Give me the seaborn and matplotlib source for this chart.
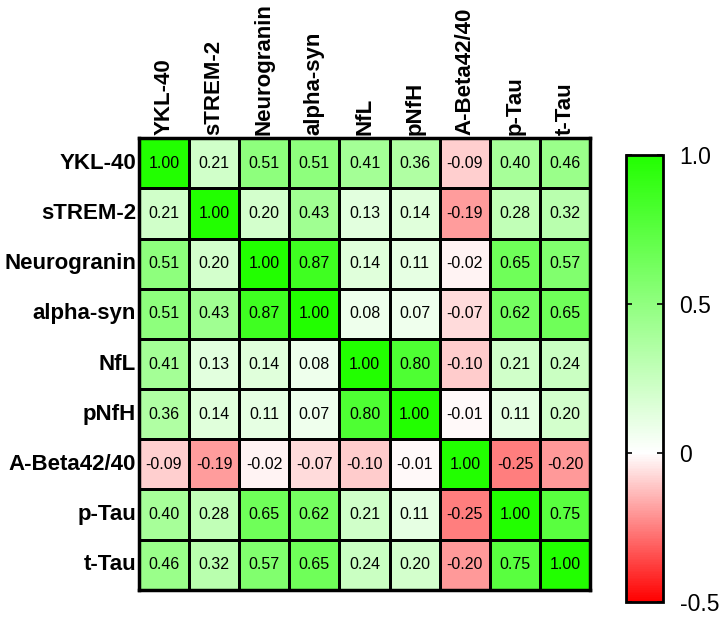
import numpy as np
import pandas as pd
import seaborn as sns
import matplotlib.pyplot as plt
from matplotlib.colors import LinearSegmentedColormap

markers = ["YKL-40", "sTREM-2", "Neurogranin", "alpha-syn", "NfL", "pNfH",
           "A-Beta42/40", "p-Tau", "t-Tau"]

ykl40 = [1.00, 0.21, 0.51, 0.51, 0.41, 0.36, -0.09, 0.40, 0.46]
strem2 = [0.21, 1.00, 0.20, 0.43, 0.13, 0.14, -0.19, 0.28, 0.32]
neurogranin = [0.51, 0.20, 1.00, 0.87, 0.14, 0.11, -0.02, 0.65, 0.57]
alpha_syn = [0.51, 0.43, 0.87, 1.00, 0.08, 0.07, -0.07, 0.62, 0.65]
nfl = [0.41, 0.13, 0.14, 0.08, 1.00, 0.80, -0.10, 0.21, 0.24]
pnfh = [0.36, 0.14, 0.11, 0.07, 0.80, 1.00, -0.01, 0.11, 0.20]
abeta = [-0.09, -0.19, -0.02, -0.07, -0.10, -0.01, 1.00, -0.25, -0.20]
ptau = [0.40, 0.28, 0.65, 0.62, 0.21, 0.11, -0.25, 1.00, 0.75]
ttau = [0.46, 0.32, 0.57, 0.65, 0.24, 0.20, -0.20, 0.75, 1.00]

cbar_ticks = [-0.5, 0, 0.5, 1.0]
cbar_labels = ["-0.5", "0", "0.5", "1.0"]

df = pd.DataFrame([ykl40, strem2, neurogranin, alpha_syn, nfl, pnfh, abeta, ptau, ttau],
                  index=markers, columns=markers)

# red at -0.5, white at 0, green at 1
cmap = LinearSegmentedColormap.from_list(
    "rwg", [(0.0, "#ff0000"), (1 / 3, "#ffffff"), (1.0, "#22ff00")])

plt.rcParams['font.family'] = ['Liberation Sans', 'DejaVu Sans']

fig = plt.figure(figsize=(7.19, 6.17), dpi=100)
ax = fig.add_axes([0.193, 0.044, 0.628, 0.732])
cax = fig.add_axes([0.871, 0.024, 0.051, 0.725])

sns.heatmap(df, ax=ax, cbar_ax=cax, cmap=cmap, vmin=-0.5, vmax=1.0,
            annot=True, fmt=".2f", annot_kws={"fontsize": 11.5, "color": "black"},
            linewidths=1, linecolor="black", square=False,
            cbar_kws={"ticks": cbar_ticks})

ax.xaxis.tick_top()
ax.set_xticklabels(markers, rotation=90, fontsize=16, fontweight="bold")
ax.set_yticklabels(markers, rotation=0, fontsize=16, fontweight="bold")
ax.tick_params(length=0, pad=2)
ax.set_xlabel("")
ax.set_ylabel("")
for s in ax.spines.values():
    s.set_visible(True)
    s.set_linewidth(2.5)
    s.set_color("black")

cbar = ax.collections[0].colorbar
cbar.set_ticklabels(cbar_labels, fontsize=16.5)
cax.tick_params(length=4, width=1.2, direction="in", pad=12, left=True)
cbar.outline.set_linewidth(2)
cbar.outline.set_edgecolor("black")

fig.savefig("out.png", dpi=100)
